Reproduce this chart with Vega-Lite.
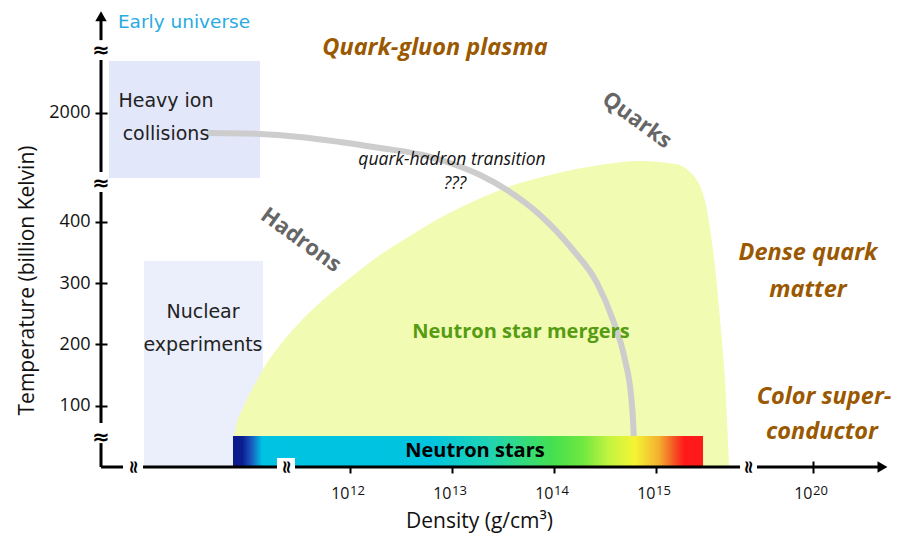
{
  "$schema": "https://vega.github.io/schema/vega-lite/v6.json",
  "width": 789,
  "height": 460,
  "autosize": {"type": "none"},
  "padding": {"left": 101, "top": 7, "right": 17, "bottom": 70},
  "background": "white",
  "config": {"view": {"stroke": null}},
  "datasets": {
    "regions": [
      {"r": "heavy", "x": 9.637, "x2": 11.118, "y": 471.2, "y2": 662.0},
      {"r": "nuclear", "x": 9.98, "x2": 11.147, "y": 0, "y2": 335.9}
    ],
    "shape": [
      {"x": 10.843, "y": 0}, {"x": 10.873, "y": 58.7}, {"x": 10.961, "y": 99.5}, {"x": 11.069, "y": 135.4},
      {"x": 11.186, "y": 169.6}, {"x": 11.324, "y": 200.6}, {"x": 11.51, "y": 236.4}, {"x": 11.735, "y": 272.3},
      {"x": 12.0, "y": 308.2}, {"x": 12.294, "y": 345.7}, {"x": 12.588, "y": 376.7}, {"x": 12.882, "y": 406.0},
      {"x": 13.176, "y": 430.5}, {"x": 13.471, "y": 451.7}, {"x": 13.961, "y": 476.1}, {"x": 14.451, "y": 492.4},
      {"x": 14.843, "y": 498.9}, {"x": 15.186, "y": 494.0}, {"x": 15.333, "y": 481.0}, {"x": 15.431, "y": 458.0},
      {"x": 15.49, "y": 427.0}, {"x": 15.539, "y": 378.0}, {"x": 15.588, "y": 313.0}, {"x": 15.637, "y": 223.0},
      {"x": 15.676, "y": 142.0}, {"x": 15.696, "y": 76.6}, {"x": 15.716, "y": 0}
    ],
    "band": [
      {"x": 10.627, "y": 544.6}, {"x": 11.118, "y": 543.0}, {"x": 11.51, "y": 538.1}, {"x": 11.902, "y": 529.9},
      {"x": 12.294, "y": 520.1}, {"x": 12.716, "y": 508.7}, {"x": 12.98, "y": 495.7}, {"x": 13.275, "y": 476.1},
      {"x": 13.539, "y": 451.7}, {"x": 13.863, "y": 410.9}, {"x": 14.186, "y": 353.8}, {"x": 14.422, "y": 300.0},
      {"x": 14.578, "y": 239.7}, {"x": 14.696, "y": 174.5}, {"x": 14.755, "y": 117.4}, {"x": 14.775, "y": 76.6},
      {"x": 14.784, "y": 44.0}
    ],
    "bar": [{"x": 10.853, "x2": 15.461, "y": 0, "y2": 50.5}],
    "patch": [{"x": 11.284, "x2": 11.461, "y": 0, "y2": 14.7}],
    "xaxis": [
      {"x": 9.559, "x2": 9.775, "y": 0}, {"x": 9.971, "x2": 11.284, "y": 0},
      {"x": 11.461, "x2": 15.824, "y": 0}, {"x": 15.99, "x2": 17.2, "y": 0}
    ],
    "yaxis": [
      {"x": 9.559, "y": 0, "y2": 39}, {"x": 9.559, "y": 71.7, "y2": 448.4},
      {"x": 9.559, "y": 481, "y2": 663.6}, {"x": 9.559, "y": 696, "y2": 735}
    ],
    "uparrow": [{"x": 9.559, "y": 735}],
    "rightarrow": [{"x": 17.22, "y": 0}],
    "ybreaks": [{"x": 9.559, "y": 48.9}, {"x": 9.559, "y": 463.1}, {"x": 9.559, "y": 679.9}],
    "xbreaks": [{"x": 9.873, "y": 0}, {"x": 11.373, "y": 0}, {"x": 15.902, "y": 0}],
    "exps": [
      {"x": 12, "y": 0, "e": "12"}, {"x": 13, "y": 0, "e": "13"}, {"x": 14, "y": 0, "e": "14"},
      {"x": 15, "y": 0, "e": "15"}, {"x": 16.539, "y": 0, "e": "20"}
    ],
    "labels": [
      {"k": "early", "t": "Early universe", "x": 9.725, "y": 725.6},
      {"k": "brown", "t": "Quark-gluon plasma", "x": 12.833, "y": 683.2},
      {"k": "brown", "t": "Dense quark", "x": 16.49, "y": 348.9},
      {"k": "brown", "t": "matter", "x": 16.49, "y": 288.6},
      {"k": "brown", "t": "Color super-", "x": 16.647, "y": 114.1},
      {"k": "brown", "t": "conductor", "x": 16.627, "y": 57.1},
      {"k": "grey", "t": "Hadrons", "x": 11.52, "y": 370.1},
      {"k": "grey", "t": "Quarks", "x": 14.814, "y": 565.8},
      {"k": "ital", "t": "quark-hadron transition", "x": 13.0, "y": 500.6},
      {"k": "ital", "t": "???", "x": 13.03, "y": 461.4},
      {"k": "plain", "t": "Heavy ion", "x": 10.196, "y": 596.8},
      {"k": "plain", "t": "collisions", "x": 10.196, "y": 543.0},
      {"k": "plain", "t": "Nuclear", "x": 10.559, "y": 252.7},
      {"k": "plain", "t": "experiments", "x": 10.559, "y": 198.9},
      {"k": "green", "t": "Neutron star mergers", "x": 13.676, "y": 220.1},
      {"k": "ns", "t": "Neutron stars", "x": 13.225, "y": 26.1}
    ]
  },
  "encoding": {
    "x": {
      "field": "x", "type": "quantitative",
      "scale": {"domain": [9.559, 17.294], "nice": false, "zero": false},
      "axis": {
        "values": [12, 13, 14, 15, 16.539],
        "labelExpr": "'10'",
        "labelAlign": "right",
        "labelBaseline": "middle",
        "labelOffset": -1,
        "labelPadding": 20,
        "labelFont": "Open Sans",
        "labelFontSize": 16,
        "labelColor": "#111",
        "domain": false,
        "grid": false,
        "ticks": true,
        "tickSize": 12,
        "tickWidth": 2,
        "tickColor": "black",
        "offset": -6,
        "title": "Density (g/cm³)",
        "titleFont": "Open Sans",
        "titleFontSize": 21,
        "titleFontWeight": "normal",
        "titleColor": "#111",
        "titleX": 378,
        "titleY": 60,
        "titleAlign": "center",
        "titleBaseline": "middle"
      }
    },
    "y": {
      "field": "y", "type": "quantitative",
      "scale": {"domain": [0, 750], "nice": false, "zero": false},
      "axis": {
        "values": [100, 200, 300, 400, 577.2],
        "labelExpr": "datum.value > 500 ? '2000' : datum.label",
        "labelPadding": 5,
        "labelFont": "Open Sans",
        "labelFontSize": 18,
        "labelColor": "#111",
        "domain": false,
        "grid": false,
        "ticks": true,
        "tickSize": 12,
        "tickWidth": 2,
        "tickColor": "black",
        "offset": -6,
        "title": "Temperature (billion Kelvin)",
        "titleFont": "Open Sans",
        "titleFontSize": 21,
        "titleFontWeight": "normal",
        "titleColor": "#111",
        "titleX": -80,
        "titleY": 273,
        "titleAngle": -90,
        "titleAlign": "center",
        "titleBaseline": "middle"
      }
    }
  },
  "layer": [
    {
      "data": {"name": "regions"},
      "mark": {"type": "rect"},
      "encoding": {
        "x2": {"field": "x2"}, "y2": {"field": "y2"},
        "color": {"field": "r", "type": "nominal", "scale": {"domain": ["heavy", "nuclear"], "range": ["#e3e7fa", "#eaeffb"]}, "legend": null}
      }
    },
    {
      "data": {"name": "shape"},
      "mark": {"type": "area", "color": "#f1fbb2", "interpolate": "monotone", "opacity": 1},
      "encoding": {"y2": {"datum": 0}}
    },
    {
      "data": {"name": "band"},
      "mark": {"type": "line", "color": "#cdcdcd", "strokeWidth": 6, "interpolate": "monotone", "strokeCap": "round"},
      "encoding": {}
    },
    {
      "data": {"name": "bar"},
      "mark": {
        "type": "rect",
        "color": {
          "gradient": "linear", "x1": 0, "y1": 0, "x2": 1, "y2": 0,
          "stops": [
            {"offset": 0, "color": "#0b1a8c"},
            {"offset": 0.02, "color": "#0b1e90"},
            {"offset": 0.04, "color": "#1a5cc0"},
            {"offset": 0.062, "color": "#00c2e2"},
            {"offset": 0.42, "color": "#00c4e0"},
            {"offset": 0.55, "color": "#20d4b0"},
            {"offset": 0.68, "color": "#44e050"},
            {"offset": 0.745, "color": "#70e840"},
            {"offset": 0.8, "color": "#c4f440"},
            {"offset": 0.855, "color": "#f4f434"},
            {"offset": 0.906, "color": "#f4b030"},
            {"offset": 0.94, "color": "#f45024"},
            {"offset": 0.96, "color": "#ff1a1a"},
            {"offset": 1, "color": "#ff1a1a"}
          ]
        }
      },
      "encoding": {"x2": {"field": "x2"}, "y2": {"field": "y2"}}
    },
    {
      "data": {"name": "patch"},
      "mark": {"type": "rect", "color": "white"},
      "encoding": {"x2": {"field": "x2"}, "y2": {"field": "y2"}}
    },
    {
      "data": {"name": "xaxis"},
      "mark": {"type": "rule", "color": "black", "strokeWidth": 3},
      "encoding": {"x2": {"field": "x2"}}
    },
    {
      "data": {"name": "yaxis"},
      "mark": {"type": "rule", "color": "black", "strokeWidth": 3},
      "encoding": {"y2": {"field": "y2"}}
    },
    {
      "data": {"name": "uparrow"},
      "mark": {"type": "point", "shape": "triangle-up", "filled": true, "color": "black", "opacity": 1, "size": 130}
    },
    {
      "data": {"name": "rightarrow"},
      "mark": {"type": "point", "shape": "triangle-right", "filled": true, "color": "black", "opacity": 1, "size": 130}
    },
    {
      "data": {"name": "ybreaks"},
      "mark": {"type": "text", "text": "≈", "font": "DejaVu Sans", "fontSize": 21, "fontWeight": "bold", "color": "black", "align": "center", "baseline": "middle", "dy": 1}
    },
    {
      "data": {"name": "xbreaks"},
      "mark": {"type": "text", "text": "≈", "font": "DejaVu Sans", "fontSize": 18, "fontWeight": "bold", "color": "black", "align": "center", "baseline": "middle", "angle": 90}
    },
    {
      "data": {"name": "exps"},
      "mark": {"type": "text", "font": "Open Sans", "fontSize": 13, "color": "#111", "align": "left", "baseline": "middle", "dy": 24},
      "encoding": {"text": {"field": "e", "type": "nominal"}}
    },
    {
      "data": {"name": "labels"},
      "transform": [{"filter": "datum.k == 'early'"}],
      "mark": {"type": "text", "font": "DejaVu Sans", "fontSize": 18.5, "color": "#29abe2", "align": "left", "baseline": "middle"},
      "encoding": {"text": {"field": "t"}}
    },
    {
      "data": {"name": "labels"},
      "transform": [{"filter": "datum.k == 'brown'"}],
      "mark": {"type": "text", "font": "Open Sans", "fontSize": 23.5, "fontWeight": "bold", "fontStyle": "italic", "color": "#9a5800", "align": "center", "baseline": "middle"},
      "encoding": {"text": {"field": "t"}}
    },
    {
      "data": {"name": "labels"},
      "transform": [{"filter": "datum.k == 'grey'"}],
      "mark": {"type": "text", "font": "Open Sans", "fontSize": 22, "fontWeight": "bold", "color": "#666666", "align": "center", "baseline": "middle", "angle": 36},
      "encoding": {"text": {"field": "t"}}
    },
    {
      "data": {"name": "labels"},
      "transform": [{"filter": "datum.k == 'ital'"}],
      "mark": {"type": "text", "font": "Open Sans", "fontSize": 17.5, "fontStyle": "italic", "color": "#111", "align": "center", "baseline": "middle"},
      "encoding": {"text": {"field": "t"}}
    },
    {
      "data": {"name": "labels"},
      "transform": [{"filter": "datum.k == 'plain'"}],
      "mark": {"type": "text", "font": "DejaVu Sans", "fontSize": 19, "color": "#222", "align": "center", "baseline": "middle"},
      "encoding": {"text": {"field": "t"}}
    },
    {
      "data": {"name": "labels"},
      "transform": [{"filter": "datum.k == 'green'"}],
      "mark": {"type": "text", "font": "Open Sans", "fontSize": 20, "fontWeight": "bold", "color": "#569c12", "align": "center", "baseline": "middle"},
      "encoding": {"text": {"field": "t"}}
    },
    {
      "data": {"name": "labels"},
      "transform": [{"filter": "datum.k == 'ns'"}],
      "mark": {"type": "text", "font": "Open Sans", "fontSize": 20, "fontWeight": "bold", "color": "black", "align": "center", "baseline": "middle"},
      "encoding": {"text": {"field": "t"}}
    }
  ]
}
